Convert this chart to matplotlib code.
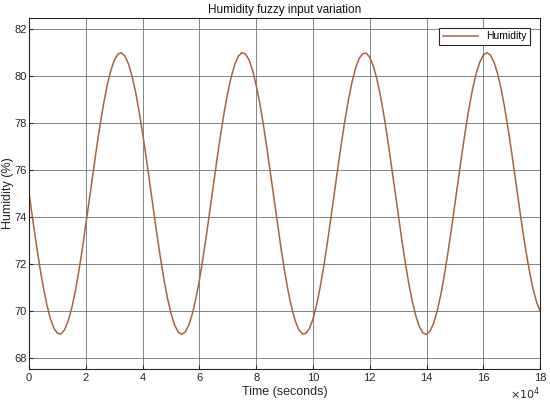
import numpy as np
import matplotlib.pyplot as plt

plt.rcParams['font.family'] = ['Liberation Sans', 'DejaVu Sans']

# time in units of 1e4 seconds, read every 0.125
time = np.arange(0, 18.001, 0.125)
humidity = [
    75.00, 73.91, 72.86, 71.87, 71.00, 70.25, 69.66, 69.25, 69.04, 69.02,
    69.20, 69.57, 70.12, 70.83, 71.69, 72.65, 73.70, 74.78, 75.87, 76.94,
    77.94, 78.84, 79.61, 80.23, 80.68, 80.94, 81.00, 80.86, 80.52, 80.00,
    79.32, 78.49, 77.55, 76.52, 75.44, 74.34, 73.27, 72.26, 71.33, 70.53,
    69.88, 69.40, 69.10, 69.00, 69.10, 69.40, 69.88, 70.53, 71.33, 72.26,
    73.27, 74.34, 75.44, 76.52, 77.55, 78.49, 79.32, 80.00, 80.52, 80.86,
    81.00, 80.94, 80.68, 80.23, 79.61, 78.84, 77.94, 76.94, 75.87, 74.78,
    73.70, 72.65, 71.69, 70.83, 70.12, 69.57, 69.20, 69.02, 69.04, 69.25,
    69.66, 70.25, 71.00, 71.87, 72.86, 73.91, 75.00, 76.09, 77.14, 78.13,
    79.00, 79.75, 80.34, 80.75, 80.96, 80.98, 80.80, 80.43, 79.88, 79.17,
    78.31, 77.35, 76.30, 75.22, 74.13, 73.06, 72.06, 71.16, 70.39, 69.77,
    69.32, 69.06, 69.00, 69.14, 69.48, 70.00, 70.68, 71.51, 72.45, 73.48,
    74.56, 75.66, 76.73, 77.74, 78.67, 79.47, 80.12, 80.60, 80.90, 81.00,
    80.90, 80.60, 80.12, 79.47, 78.67, 77.74, 76.73, 75.66, 74.56, 73.52,
    72.55, 71.68, 70.93, 70.38, 70.00,
]

xticks = [0, 2, 4, 6, 8, 10, 12, 14, 16, 18]
yticks = [68, 70, 72, 74, 76, 78, 80, 82]

fig = plt.figure(figsize=(5.5, 4.04), dpi=100)
ax = fig.add_axes([0.053, 0.087, 0.929, 0.868])

ax.plot(time, humidity, color='#A8643C', lw=1.1, label='Humidity')

ax.set_xlim(0, 18)
ax.set_ylim(67.53, 82.47)
ax.set_xticks(xticks)
ax.set_yticks(yticks)
ax.grid(True, color='#707070', lw=0.6)
ax.tick_params(direction='in', length=3, labelsize=8, colors='#262626')
ax.tick_params(axis='y', pad=1.5)
ax.tick_params(axis='x', pad=3)
for s in ax.spines.values():
    s.set_color('#262626')
    s.set_linewidth(0.8)

ax.set_xlabel('Time (seconds)', fontsize=9, color='#262626', labelpad=2)
ax.set_ylabel('Humidity (%)', fontsize=9, color='#262626', va='center')
ax.yaxis.set_label_coords(-0.041, 0.5)
ax.set_title('Humidity fuzzy input variation', fontsize=8.5, color='#111111', pad=4)
ax.text(1.0, -0.071, r'$\times10^4$', transform=ax.transAxes, ha='right',
        va='center', fontsize=8, color='#262626')

leg = ax.legend(loc='upper right', fontsize=7.5, fancybox=False,
                framealpha=1, edgecolor='#262626', borderpad=0.3,
                handlelength=3.4, borderaxespad=0,
                bbox_to_anchor=(0.98, 0.971))
leg.get_frame().set_linewidth(0.8)

fig.savefig('out.png', dpi=100)
